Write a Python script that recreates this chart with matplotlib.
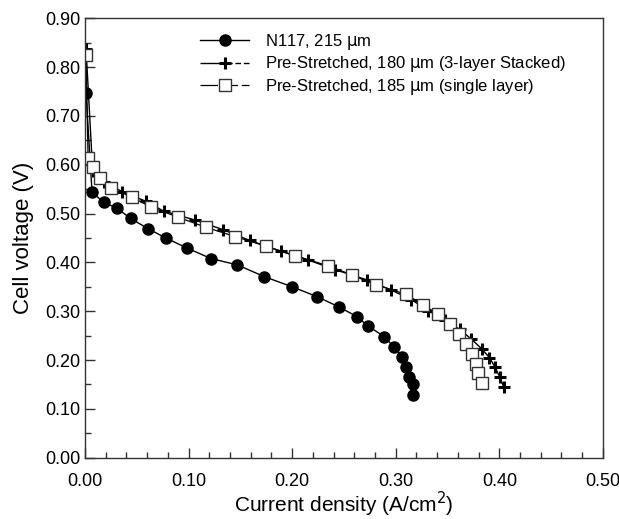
import matplotlib.pyplot as plt
from matplotlib.lines import Line2D
from matplotlib.ticker import MultipleLocator, FormatStrFormatter

plt.rcParams['font.family'] = ['Liberation Sans', 'DejaVu Sans']

# N117, 215 um
n117_i = [0.001, 0.0068, 0.018, 0.031, 0.044, 0.061, 0.078, 0.098, 0.1215, 0.147,
          0.173, 0.200, 0.224, 0.245, 0.2626, 0.273, 0.289, 0.298, 0.306, 0.310,
          0.3125, 0.3166, 0.317]
n117_v = [0.747, 0.544, 0.523, 0.511, 0.490, 0.469, 0.450, 0.430, 0.408, 0.395,
          0.371, 0.350, 0.330, 0.309, 0.289, 0.270, 0.248, 0.227, 0.207, 0.186,
          0.166, 0.150, 0.129]

# pre-stretched, 180 um, 3-layer stacked
stack_i = [0.001, 0.0074, 0.018, 0.036, 0.059, 0.076, 0.106, 0.1334, 0.159, 0.189,
           0.2154, 0.2417, 0.2726, 0.295, 0.315, 0.3315, 0.3475, 0.3616, 0.373,
           0.383, 0.3905, 0.396, 0.4005, 0.4044]
stack_v = [0.838, 0.588, 0.564, 0.545, 0.525, 0.505, 0.487, 0.467, 0.445, 0.423,
           0.405, 0.385, 0.364, 0.344, 0.324, 0.301, 0.282, 0.263, 0.243,
           0.223, 0.205, 0.185, 0.165, 0.144]

# pre-stretched, 185 um, single layer
single_i = [0.001, 0.003, 0.008, 0.0145, 0.0255, 0.045, 0.064, 0.0894, 0.1167,
            0.145, 0.175, 0.2025, 0.235, 0.258, 0.281, 0.3095, 0.3265, 0.3407,
            0.352, 0.361, 0.368, 0.374, 0.3775, 0.3797, 0.3835]
single_v = [0.825, 0.614, 0.596, 0.5725, 0.552, 0.534, 0.513, 0.493, 0.472,
            0.453, 0.433, 0.414, 0.393, 0.374, 0.354, 0.335, 0.3135, 0.2935,
            0.274, 0.2525, 0.2325, 0.2125, 0.1927, 0.173, 0.1525]

labels = [r'N117, 215 $\mathrm{\mu}$m',
          r'Pre-Stretched, 180 $\mathrm{\mu}$m (3-layer Stacked)',
          r'Pre-Stretched, 185 $\mathrm{\mu}$m (single layer)']

circle_style = dict(marker='o', ms=8, color='black')
plus_style = dict(marker='+', ms=9, mew=2.2, color='black')
square_style = dict(marker='s', ms=8, mfc='white', mec='#333333', mew=1.0, color='black')

fig = plt.figure(figsize=(6.19, 5.19), dpi=100)
ax = fig.add_axes([0.1373, 0.1181, 0.8367, 0.8466])

ax.plot(n117_i, n117_v, lw=1.0, **circle_style)
ax.plot(stack_i, stack_v, lw=1.0, **plus_style)
ax.plot(single_i, single_v, lw=0.9, **square_style)

ax.set_xlim(0, 0.5)
ax.set_ylim(0, 0.9)
ax.xaxis.set_major_locator(MultipleLocator(0.1))
ax.xaxis.set_minor_locator(MultipleLocator(0.02))
ax.yaxis.set_major_locator(MultipleLocator(0.1))
ax.yaxis.set_minor_locator(MultipleLocator(0.05))
ax.xaxis.set_major_formatter(FormatStrFormatter('%.2f'))
ax.yaxis.set_major_formatter(FormatStrFormatter('%.2f'))
ax.tick_params(which='both', direction='in', color='#333333', labelsize=13)
ax.tick_params(which='major', length=7, width=1)
ax.tick_params(which='minor', length=4.5, width=1)
ax.tick_params(axis='x', pad=11)
for s in ax.spines.values():
    s.set_color('#333333')
    s.set_linewidth(1.0)

ax.set_xlabel('Current density (A/cm$^2$)', fontsize=15, labelpad=0)
ax.set_ylabel('Cell voltage (V)', fontsize=16, labelpad=8)

# legend keys carry the line patterns of each series
handles = [
    Line2D([], [], lw=1.0, **circle_style),
    Line2D([], [], lw=1.0, ls=(0, (14, 2, 4, 2, 1.2, 2, 4, 2)), **plus_style),
    Line2D([], [], lw=0.9, ls=(0, (14, 3, 5, 3, 5, 3)), **square_style),
]
ax.legend(handles, labels, loc='upper left', bbox_to_anchor=(0.193, 1.003),
          frameon=False, fontsize=12, handlelength=2.95, handletextpad=0.96,
          labelspacing=0.14)

fig.savefig('out.png', dpi=100)
